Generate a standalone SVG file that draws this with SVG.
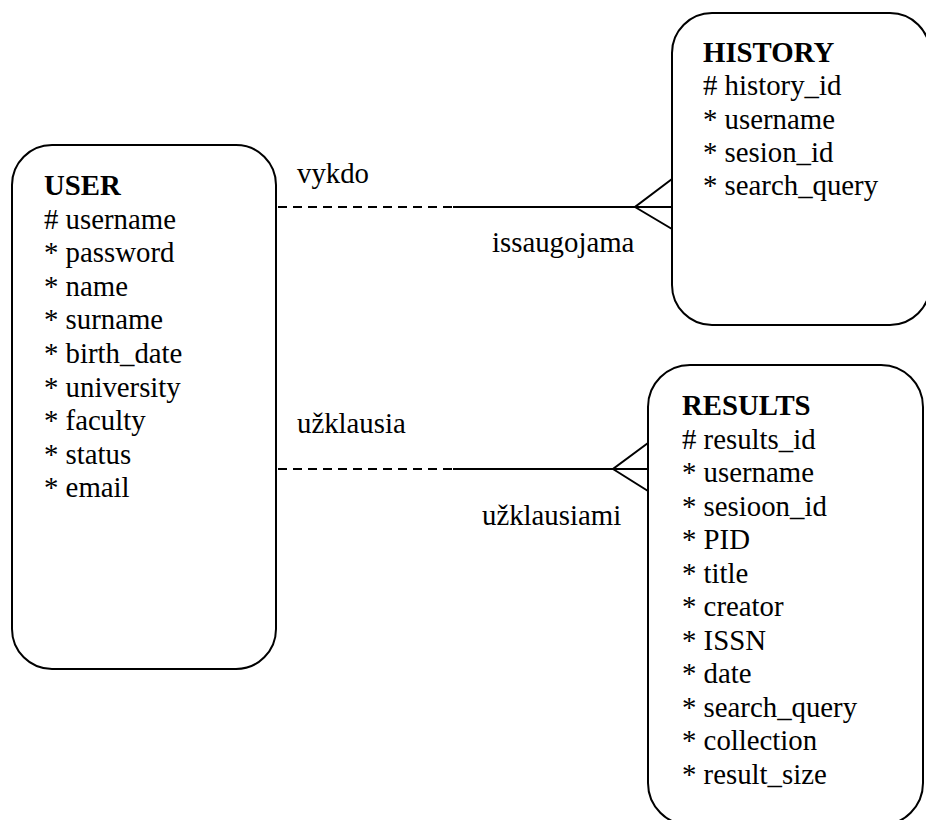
<svg xmlns="http://www.w3.org/2000/svg" width="926" height="820" viewBox="0 0 926 820">
<style>
.box{fill:#fff;stroke:#000;stroke-width:2}
.t{font-family:'Liberation Serif','Times New Roman',serif;font-size:28.8px;fill:#000}
.b{font-weight:bold}
.ln{stroke:#000;stroke-width:2;fill:none}
.dash{stroke-dasharray:9 6}
</style>
<rect x="0" y="0" width="926" height="820" fill="#fff"/>
<g id="connectors">
<line class="ln dash" x1="278" y1="207" x2="453" y2="207"/>
<line class="ln" x1="453" y1="207" x2="672" y2="207"/>
<polyline class="ln" points="672,179 635,207 672,229"/>
<line class="ln dash" x1="278" y1="469" x2="453" y2="469"/>
<line class="ln" x1="453" y1="469" x2="648" y2="469"/>
<polyline class="ln" points="648,443 613,469 648,491"/>
<text class="t" x="297" y="183">vykdo</text>
<text class="t" x="492" y="252">issaugojama</text>
<text class="t" x="297" y="433">užklausia</text>
<text class="t" x="482" y="525">užklausiami</text>
</g>
<g id="user">
<rect class="box" x="12" y="145" width="264" height="524" rx="40" ry="40"/>
<text class="t b" x="44" y="195">USER</text>
<text class="t" x="44" y="228.6"># username</text>
<text class="t" x="44" y="262.2">* password</text>
<text class="t" x="44" y="295.8">* name</text>
<text class="t" x="44" y="329.4">* surname</text>
<text class="t" x="44" y="363">* birth_date</text>
<text class="t" x="44" y="396.6">* university</text>
<text class="t" x="44" y="430.2">* faculty</text>
<text class="t" x="44" y="463.8">* status</text>
<text class="t" x="44" y="497.4">* email</text>
</g>
<g id="history">
<rect class="box" x="672" y="13" width="258" height="312" rx="40" ry="40"/>
<text class="t b" x="703" y="62">HISTORY</text>
<text class="t" x="703" y="95.3"># history_id</text>
<text class="t" x="703" y="128.6">* username</text>
<text class="t" x="703" y="162">* sesion_id</text>
<text class="t" x="703" y="195.3">* search_query</text>
</g>
<g id="results">
<rect class="box" x="648" y="365" width="275" height="460" rx="42" ry="42"/>
<text class="t b" x="682" y="415">RESULTS</text>
<text class="t" x="682" y="448.5"># results_id</text>
<text class="t" x="682" y="482">* username</text>
<text class="t" x="682" y="515.5">* sesioon_id</text>
<text class="t" x="682" y="549">* PID</text>
<text class="t" x="682" y="582.5">* title</text>
<text class="t" x="682" y="616">* creator</text>
<text class="t" x="682" y="649.5">* ISSN</text>
<text class="t" x="682" y="683">* date</text>
<text class="t" x="682" y="716.5">* search_query</text>
<text class="t" x="682" y="750">* collection</text>
<text class="t" x="682" y="783.5">* result_size</text>
</g>
</svg>
